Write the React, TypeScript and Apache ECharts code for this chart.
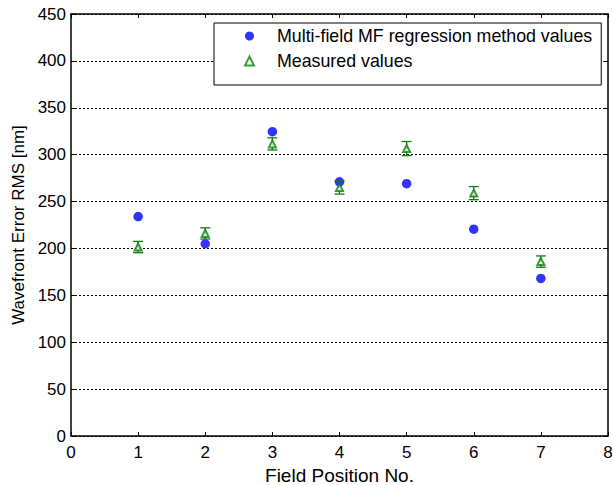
import React, { useEffect, useRef } from "react";
import * as echarts from "echarts";

const fieldPositions = [1, 2, 3, 4, 5, 6, 7];
const regressionValues = [234, 205, 324.5, 271, 269, 220.5, 168];
const measuredValues = [201.5, 216, 311.5, 265, 306.5, 259, 186];
const measuredErrors = [6, 6, 6.5, 7, 7.5, 7, 6];
const yTicks = [0, 50, 100, 150, 200, 250, 300, 350, 400, 450];
const xTicks = [0, 1, 2, 3, 4, 5, 6, 7, 8];

const FONT = "Liberation Sans, Arial, sans-serif";

export default function App() {
  const ref = useRef<HTMLDivElement>(null);
  useEffect(() => {
    document.body.style.margin = "0";
    const chart = echarts.init(ref.current!, null, { renderer: "svg" });
    const errData = fieldPositions.map((x, i) => [
      x,
      measuredValues[i] - measuredErrors[i],
      measuredValues[i] + measuredErrors[i],
    ]);
    const green = "#0a800a";
    const axisLine = { onZero: false, lineStyle: { color: "#000", width: 1.5 } };
    const tick = { inside: true, length: 4, lineStyle: { color: "#000", width: 1 } };
    chart.setOption({
      animation: false,
      textStyle: { fontFamily: FONT },
      grid: {
        left: 71,
        right: 5,
        top: 14,
        bottom: 49,
        containLabel: false,
        outerBoundsMode: "none",
      },
      legend: {
        orient: "vertical",
        left: 214,
        top: 23,
        backgroundColor: "#fff",
        borderColor: "#000",
        borderWidth: 1,
        padding: [4, 9, 15, 30],
        itemGap: 7,
        itemWidth: 9,
        itemHeight: 9,
        textStyle: { fontFamily: FONT, fontSize: 17.8, color: "#000", padding: [0, 0, 0, 18] },
        data: [
          { name: "Multi-field MF regression method values", icon: "circle" },
          { name: "Measured values", icon: "emptyTriangle", itemStyle: { borderWidth: 1.2 } },
        ],
      },
      xAxis: [
        {
          type: "value",
          min: xTicks[0],
          max: xTicks[xTicks.length - 1],
          interval: 1,
          name: "Field Position No.",
          nameLocation: "middle",
          nameGap: 26,
          nameTextStyle: { fontFamily: FONT, fontSize: 19, color: "#000" },
          axisLine,
          axisTick: tick,
          axisLabel: { fontFamily: FONT, fontSize: 17, color: "#000", margin: 8 },
          splitLine: { show: false },
        },
        {
          type: "value",
          position: "top",
          min: xTicks[0],
          max: xTicks[xTicks.length - 1],
          interval: 1,
          axisLine,
          axisTick: tick,
          axisLabel: { show: false },
          splitLine: { show: false },
        },
      ],
      yAxis: [
        {
          type: "value",
          min: yTicks[0],
          max: yTicks[yTicks.length - 1],
          interval: 50,
          name: "Wavefront Error RMS [nm]",
          nameLocation: "middle",
          nameGap: 43,
          nameTextStyle: { fontFamily: FONT, fontSize: 17, color: "#000" },
          axisLine,
          axisTick: tick,
          axisLabel: { fontFamily: FONT, fontSize: 17, color: "#000", margin: 5 },
          splitLine: { show: true, lineStyle: { color: "#000", type: [2, 2], width: 1 } },
        },
        {
          type: "value",
          position: "right",
          min: yTicks[0],
          max: yTicks[yTicks.length - 1],
          interval: 50,
          axisLine,
          axisTick: tick,
          axisLabel: { show: false },
          splitLine: { show: false },
        },
      ],
      series: [
        {
          name: "Multi-field MF regression method values",
          type: "scatter",
          symbol: "circle",
          symbolSize: 9.5,
          itemStyle: { color: "#0000ff" },
          data: fieldPositions.map((x, i) => [x, regressionValues[i]]),
          z: 3,
        },
        {
          name: "Measured values",
          type: "scatter",
          symbol: "emptyTriangle",
          symbolSize: 7,
          itemStyle: { color: green, borderColor: green, borderWidth: 1.2 },
          data: fieldPositions.map((x, i) => [x, measuredValues[i]]),
          z: 4,
        },
        {
          name: "err",
          type: "custom",
          z: 4,
          renderItem: (params: any, api: any) => {
            const x = api.value(0);
            const lo = api.coord([x, api.value(1)]);
            const hi = api.coord([x, api.value(2)]);
            const hw = 5;
            const style = { stroke: green, lineWidth: 1.3 };
            return {
              type: "group",
              children: [
                { type: "line", shape: { x1: lo[0], y1: lo[1], x2: hi[0], y2: hi[1] }, style },
                { type: "line", shape: { x1: lo[0] - hw, y1: lo[1], x2: lo[0] + hw, y2: lo[1] }, style },
                { type: "line", shape: { x1: hi[0] - hw, y1: hi[1], x2: hi[0] + hw, y2: hi[1] }, style },
              ],
            };
          },
          data: errData,
        },
      ],
    });
    return () => chart.dispose();
  }, []);
  return <div ref={ref} style={{ width: 613, height: 485 }} />;
}
